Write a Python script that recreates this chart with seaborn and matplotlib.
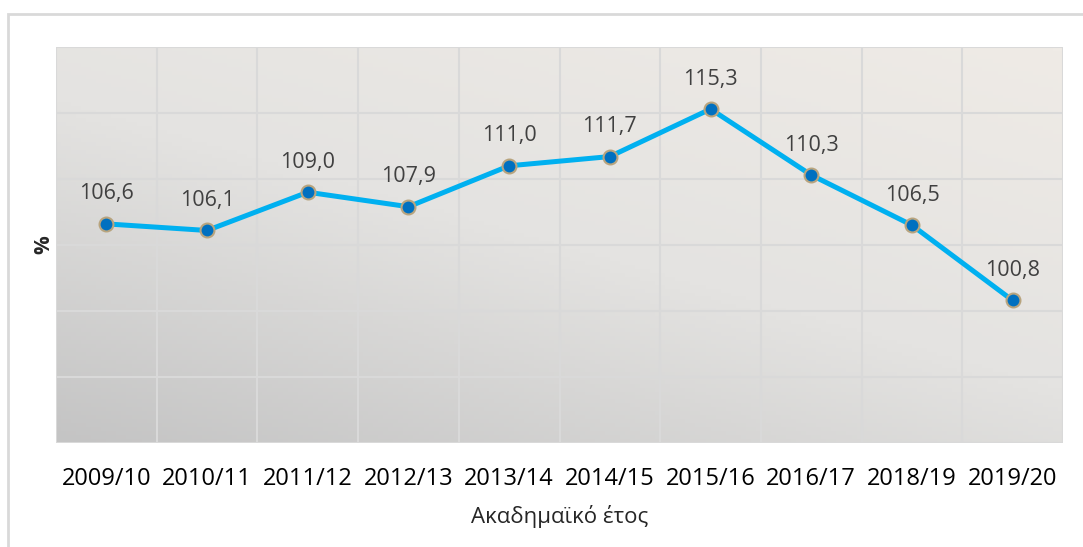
import numpy as np
import pandas as pd
import seaborn as sns
from matplotlib import pyplot as plt
from matplotlib.patches import Rectangle
from matplotlib.colors import LinearSegmentedColormap

#Data
years = ['2009/10', '2010/11', '2011/12', '2012/13', '2013/14',
         '2014/15', '2015/16', '2016/17', '2018/19', '2019/20']
values = [106.6, 106.1, 109.0, 107.9, 111.0, 111.7, 115.3, 110.3, 106.5, 100.8]
labels = ['106,6', '106,1', '109,0', '107,9', '111,0',
          '111,7', '115,3', '110,3', '106,5', '100,8']

df = pd.DataFrame({'year': years, 'value': values})

sns.set_style('white')
plt.rcParams['font.family'] = ['Open Sans', 'DejaVu Sans']

fig = plt.figure(figsize=(10.83, 5.47), dpi=100)
ax = fig.add_axes([56/1083, 1 - 443/547, (1063-56)/1083, (443-47)/547])

#outer frame of the chart
frame = Rectangle((8/1083, -0.05), 1.1, 1 - 14/547 + 0.05, transform=fig.transFigure,
                  fill=False, edgecolor='#d9d9d9', linewidth=2, clip_on=False, zorder=0)
fig.patches.append(frame)

#gradient background: darker bottom-left, lighter top-right
xx, yy = np.meshgrid(np.linspace(0, 1, 200), np.linspace(0, 1, 100))
grad = 0.55 * xx + 0.75 * yy
grad = grad / grad.max()
cmap = LinearSegmentedColormap.from_list('bg', ['#c4c4c4', '#e4e3e1', '#efebe6'])
ax.imshow(grad, extent=[0, 1, 0, 1], transform=ax.transAxes, origin='lower',
          cmap=cmap, aspect='auto', zorder=0)

sns.lineplot(data=df, x='year', y='value', ax=ax, color='#00b0f0', linewidth=3.6,
             marker='o', markersize=10, markerfacecolor='#0070c0',
             markeredgecolor='#b8a47e', markeredgewidth=1.5, zorder=3, sort=False)

for i, (v, t) in enumerate(zip(values, labels)):
    ax.annotate(t, (i, v), xytext=(0, 14), textcoords='offset points',
                ha='center', va='bottom', fontsize=15.5, color='#404040', zorder=4)

ax.set_xlim(-0.5, 9.5)
ax.set_ylim(90, 120)
ax.set_yticks(np.arange(90, 121, 5))
ax.set_yticklabels([])
ax.set_xticks(np.arange(-0.5, 10, 1), minor=True)
ax.grid(False)
ax.grid(True, which='minor', axis='x', color='#d9d9d9', linewidth=1.5, zorder=1)
ax.grid(True, which='major', axis='y', color='#d9d9d9', linewidth=1.5, zorder=1)
ax.set_axisbelow(True)
ax.tick_params(axis='both', which='both', length=0)
ax.tick_params(axis='x', labelsize=17, pad=17, colors='black')
for s in ax.spines.values():
    s.set_visible(False)

ax.set_xlabel('Ακαδημαϊκό έτος', fontsize=16, labelpad=10)
ax.set_ylabel('%', fontsize=15, fontweight='bold', labelpad=-2)

fig.savefig('out.png', dpi=100)
